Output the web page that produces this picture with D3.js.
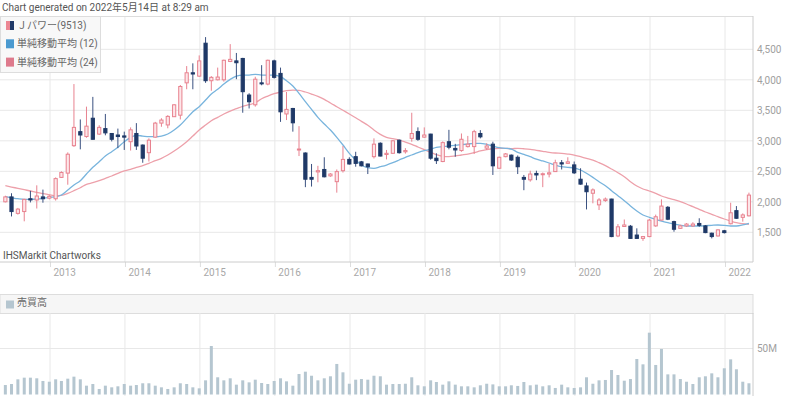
<!DOCTYPE html>
<html>
<head>
<meta charset="utf-8">
<script src="https://cdn.jsdelivr.net/npm/d3@7"></script>
<style>
  body { margin: 0; background: #fff; }
  svg { display: block; font-family: Roboto, "Noto Sans CJK JP", sans-serif; }
</style>
</head>
<body>
<div id="chart"></div>
<script>
// monthly bars, first one is Jun 2012, last one May 2022
const firstMonth = "2012-06";
const monthCount = 120;

// OHLC (yen), 12 per row from Jun 2012
const open = [
  2000, 2080, 1810, 1840, 2050, 2030, 2080,
  2060, 2050, 2400, 2470, 2920, 3150, 3070, 3370, 3110, 3200, 3120, 3095,
  3080, 2985, 3120, 2930, 2805, 3060, 3290, 3260, 3395, 3420, 3950, 4115,
  4060, 4600, 3985, 4000, 4000, 4300, 4310, 4350, 3750, 3590, 3950, 3930,
  4310, 4105, 3440, 3530, 2850, 2800, 2400, 2490, 2530, 2425, 2330, 2510,
  2695, 2740, 2655, 2620, 2740, 2960, 2775, 2795, 3010, 2820, 3040, 3150,
  3060, 3110, 2715, 2660, 2985, 2875, 2840, 2905, 2905, 3120, 2880, 2945,
  2550, 2740, 2765, 2730, 2400, 2360, 2465, 2445, 2455, 2495, 2640, 2630,
  2605, 2370, 2260, 2140, 1950, 2020, 2045, 1440, 1595, 1600, 1455, 1400,
  1430, 1605, 1700, 1910, 1675, 1565, 1605, 1605, 1645, 1605, 1485, 1440,
  1525, 1640, 1855, 1745, 1770
];
const high = [
  2100, 2140, 1900, 2050, 2180, 2270, 2200,
  2110, 2400, 2500, 2810, 3930, 3350, 3560, 3720, 3255, 3440, 3125, 3200,
  3150, 3220, 3290, 2940, 3040, 3310, 3370, 3420, 3600, 3915, 4225, 4270,
  4400, 4700, 4060, 4200, 4330, 4585, 4440, 4360, 3780, 4050, 4240, 4330,
  4330, 4200, 3800, 3540, 3240, 2810, 2620, 2590, 2730, 2470, 2530, 2915,
  2730, 2820, 2670, 2625, 3040, 2975, 2850, 3010, 3020, 2880, 3460, 3220,
  3220, 3115, 2795, 2990, 3180, 2950, 3120, 3080, 3180, 3175, 2960, 2985,
  2740, 2800, 2775, 2760, 2440, 2510, 2510, 2480, 2630, 2690, 2685, 2730,
  2660, 2550, 2315, 2220, 2060, 2070, 2050, 1635, 1710, 1620, 1565, 1440,
  1720, 1790, 2040, 1930, 1690, 1625, 1650, 1665, 1730, 1620, 1495, 1550,
  1540, 1985, 1930, 1810, 2150
];
const low = [
  1990, 1760, 1790, 1680, 1990, 1890, 1985,
  2040, 2020, 2390, 2280, 2900, 2860, 3050, 3020, 3095, 3090, 2990, 2880,
  2850, 2840, 2850, 2640, 2660, 3050, 3230, 3205, 3390, 3350, 3845, 3845,
  4050, 3950, 3820, 3990, 3970, 4290, 4010, 3460, 3530, 3560, 3910, 3910,
  4020, 3310, 3340, 3150, 2750, 2240, 2250, 2320, 2400, 2410, 2150, 2480,
  2610, 2575, 2580, 2455, 2710, 2745, 2695, 2790, 2790, 2790, 2985, 3000,
  3050, 2690, 2620, 2650, 2860, 2740, 2820, 2890, 2785, 3040, 2850, 2440,
  2545, 2730, 2670, 2455, 2190, 2330, 2355, 2240, 2400, 2490, 2530, 2620,
  2455, 2280, 1875, 1975, 1865, 2000, 1420, 1420, 1590, 1395, 1390, 1360,
  1420, 1590, 1695, 1700, 1510, 1555, 1590, 1590, 1590, 1485, 1400, 1430,
  1480, 1630, 1720, 1675, 1760
];
const close = [
  2080, 1840, 1880, 2040, 2030, 2095, 2050,
  2090, 2380, 2480, 2780, 3220, 3095, 3240, 3025, 3220, 3130, 3025, 3070,
  3060, 3180, 2915, 2715, 3010, 3290, 3340, 3400, 3590, 3890, 4115, 4095,
  4310, 3985, 4040, 4045, 4320, 4335, 4280, 3805, 3640, 4010, 3935, 4320,
  4040, 3475, 3515, 3295, 2865, 2370, 2370, 2510, 2410, 2455, 2495, 2695,
  2620, 2630, 2590, 2575, 2945, 2750, 2795, 3000, 2805, 2840, 3120, 3025,
  3095, 2715, 2675, 2970, 2895, 2850, 3025, 2945, 3150, 3065, 2915, 2590,
  2730, 2785, 2685, 2575, 2370, 2455, 2440, 2460, 2475, 2640, 2620, 2655,
  2475, 2290, 2165, 2195, 2030, 2045, 1430, 1590, 1620, 1400, 1400, 1430,
  1700, 1755, 1930, 1715, 1550, 1605, 1635, 1635, 1615, 1495, 1430, 1540,
  1495, 1820, 1730, 1785, 2110
];

// 単純移動平均 lines as drawn
const ma12 = [
  2083, 2067, 2051, 2041, 2041, 2046, 2057,
  2074, 2083, 2111, 2193, 2275, 2346, 2455, 2565, 2657, 2751, 2821, 2893,
  2985, 3057, 3090, 3078, 3067, 3067, 3078, 3111, 3177, 3258, 3368, 3477,
  3559, 3668, 3767, 3844, 3931, 4007, 4062, 4078, 4078, 4089, 4078, 4078,
  4078, 4051, 3985, 3898, 3778, 3641, 3516, 3385, 3275, 3177, 3057, 2931,
  2795, 2685, 2603, 2559, 2549, 2575, 2603, 2641, 2685, 2729, 2767, 2805,
  2837, 2860, 2893, 2903, 2914, 2926, 2936, 2947, 2958, 2958, 2942, 2914,
  2887, 2877, 2865, 2811, 2778, 2739, 2701, 2669, 2636, 2603, 2575, 2565,
  2554, 2521, 2467, 2401, 2329, 2264, 2182, 2100, 2018, 1931, 1849, 1784,
  1746, 1713, 1685, 1657, 1636, 1615, 1603, 1603, 1603, 1608, 1615, 1620,
  1615, 1603, 1603, 1620, 1648
];
const ma24 = [
  2264, 2242, 2221, 2199, 2177, 2156, 2133,
  2116, 2100, 2106, 2139, 2182, 2231, 2287, 2313, 2346, 2385, 2423, 2467,
  2505, 2532, 2565, 2592, 2631, 2674, 2713, 2767, 2833, 2903, 2985, 3078,
  3177, 3258, 3329, 3385, 3439, 3488, 3526, 3565, 3592, 3624, 3690, 3734,
  3772, 3800, 3821, 3832, 3827, 3800, 3767, 3729, 3680, 3619, 3559, 3500,
  3439, 3378, 3319, 3254, 3177, 3106, 3057, 3034, 3013, 2980, 2942, 2898,
  2854, 2811, 2772, 2746, 2739, 2751, 2767, 2783, 2805, 2833, 2854, 2870,
  2877, 2877, 2870, 2877, 2870, 2860, 2844, 2828, 2811, 2800, 2795, 2783,
  2767, 2739, 2713, 2685, 2641, 2592, 2537, 2477, 2411, 2329, 2259, 2210,
  2177, 2139, 2095, 2062, 2035, 2002, 1964, 1920, 1877, 1833, 1795, 1756,
  1718, 1685, 1657, 1641, 1631
];

// 売買高, millions of shares
const volume = [
  10.3, 11.4, 16.5, 18.3, 18.3, 17.6, 14.7,
  13.9, 16.5, 14.7, 17.2, 19.4, 16.5, 9.6, 11.4, 6.0, 9.6, 7.8, 8.9,
  11.4, 9.6, 10.3, 12.2, 12.2, 9.6, 7.8, 6.0, 7.8, 12.2, 11.4, 7.8,
  6.7, 15.4, 52.7, 18.7, 15.4, 17.6, 10.7, 15.4, 13.2, 16.1, 12.5, 11.4,
  14.7, 17.6, 14.3, 9.6, 22.3, 24.8, 20.4, 15.4, 17.6, 19.8, 33.2, 24.1,
  11.7, 16.1, 16.8, 16.1, 20.4, 19.8, 10.7, 11.4, 11.4, 11.7, 18.7, 10.0,
  8.9, 15.4, 13.6, 10.7, 14.3, 10.7, 8.9, 8.9, 7.8, 10.0, 11.7, 11.0,
  8.9, 8.9, 10.0, 9.3, 13.6, 10.0, 10.7, 8.9, 10.0, 7.1, 10.7, 7.8,
  7.1, 7.8, 18.7, 11.7, 15.4, 15.8, 26.6, 21.2, 15.0, 16.8, 38.6, 32.8,
  67.2, 32.1, 49.5, 21.9, 21.9, 16.8, 13.9, 11.4, 18.7, 19.8, 23.0, 18.7,
  28.5, 38.2, 27.4, 13.9, 12.2
];

const priceTicks = [1500, 2000, 2500, 3000, 3500, 4000, 4500];
const volumeTicks = [50];
const legendLabels = ["Ｊパワー(9513)", "単純移動平均 (12)", "単純移動平均 (24)"];

const width = 800, height = 396;
const plotRight = 753;
const priceTop = 16, priceBottom = 262;
const volHeadTop = 294, volTop = 313, volBottom = 394.5;

const upStroke = "#e8828f", upFill = "#fde6e9";
const downColor = "#1f3967";
const ma12Color = "#78b4dd", ma24Color = "#eda0aa";
const volColor = "#b5c6d0";
const gridColor = "#e8e8e8";
const fontSize = 10;

let parseMonth = d3.timeParse("%Y-%m");
let start = parseMonth(firstMonth);
let months = d3.timeMonth.range(start, d3.timeMonth.offset(start, monthCount));

let data = months.map((m, i) => ({
  date: m,
  open: open[i], high: high[i], low: low[i], close: close[i],
  ma12: ma12[i], ma24: ma24[i], vol: volume[i]
}));

let xScale = d3.scaleTime()
  .domain([new Date(2013, 0, 1), new Date(2022, 0, 1)])
  .range([50, 725]);

let yScale = d3.scaleLinear()
  .domain([1500, 4500])
  .range([232.3, 49.3]);

let vScale = d3.scaleLinear()
  .domain([0, 50])
  .range([volBottom, 348.5]);

let X = d => xScale(d.date) - 0.7;
let years = d3.timeYear.range(new Date(2013, 0, 1), new Date(2022, 0, 2));

let svg = d3.select("#chart")
  .append("svg")
    .attr("width", width)
    .attr("height", height)
    .attr("viewBox", [0, 0, width, height].join(" "));

svg.append("rect")
  .attr("width", width).attr("height", height)
  .attr("fill", "#fff");

// title
svg.append("text")
  .attr("x", 2).attr("y", 11)
  .attr("font-size", fontSize)
  .attr("fill", "#555")
  .text("Chart generated on 2022年5月14日 at 8:29 am");

// ---- price panel ----
let price = svg.append("g");

price.append("g")
  .selectAll("line")
  .data(priceTicks)
  .join("line")
    .attr("x1", 0).attr("x2", plotRight)
    .attr("y1", d => yScale(d)).attr("y2", d => yScale(d))
    .attr("stroke", gridColor);

price.append("g")
  .selectAll("line")
  .data(years)
  .join("line")
    .attr("x1", d => xScale(d)).attr("x2", d => xScale(d))
    .attr("y1", priceTop).attr("y2", priceBottom)
    .attr("stroke", gridColor);

price.append("line")
  .attr("x1", 0).attr("x2", plotRight)
  .attr("y1", priceTop + 0.5).attr("y2", priceTop + 0.5)
  .attr("stroke", "#ddd");

// moving averages under the candles
let ma12Line = d3.line().x(X).y(d => yScale(d.ma12)).curve(d3.curveMonotoneX);
let ma24Line = d3.line().x(X).y(d => yScale(d.ma24)).curve(d3.curveMonotoneX);

price.append("path")
  .datum(data)
  .attr("d", ma24Line)
  .attr("fill", "none")
  .attr("stroke", ma24Color)
  .attr("stroke-width", 1.3);

price.append("path")
  .datum(data)
  .attr("d", ma12Line)
  .attr("fill", "none")
  .attr("stroke", ma12Color)
  .attr("stroke-width", 1.3);

// candles
let candles = price.append("g")
  .selectAll("g")
  .data(data)
  .join("g");

candles.append("line")
  .attr("x1", X).attr("x2", X)
  .attr("y1", d => yScale(d.high))
  .attr("y2", d => yScale(d.low))
  .attr("stroke", d => d.close >= d.open ? upStroke : "#3a5180")
  .attr("stroke-width", 1);

candles.append("rect")
  .attr("x", d => X(d) - 1.6)
  .attr("width", 3.2)
  .attr("y", d => yScale(Math.max(d.open, d.close)))
  .attr("height", d => Math.max(1, Math.abs(yScale(d.open) - yScale(d.close))))
  .attr("fill", d => d.close >= d.open ? upFill : downColor)
  .attr("stroke", d => d.close >= d.open ? upStroke : downColor)
  .attr("stroke-width", 1);

// axes
let yAxis = d3.axisRight(yScale)
  .tickValues(priceTicks)
  .tickFormat(d3.format(","))
  .tickSize(0)
  .tickPadding(4);

price.append("g")
  .attr("transform", `translate(${plotRight},0)`)
  .call(yAxis)
  .call(g => g.select(".domain").remove())
  .call(g => g.selectAll("text")
    .attr("fill", "#a0a0a0")
    .attr("font-size", fontSize)
    .attr("font-family", "Roboto, sans-serif"));

let xAxis = d3.axisBottom(xScale)
  .tickValues(years)
  .tickFormat(d3.timeFormat("%Y"))
  .tickSize(5)
  .tickPadding(2);

price.append("g")
  .attr("transform", `translate(0,${priceBottom})`)
  .call(xAxis)
  .call(g => g.select(".domain").remove())
  .call(g => g.selectAll(".tick line").attr("stroke", "#ddd"))
  .call(g => g.selectAll("text")
    .attr("text-anchor", "start")
    .attr("dx", 3)
    .attr("fill", "#a8a8a8")
    .attr("font-size", fontSize)
    .attr("font-family", "Roboto, sans-serif"));

price.append("line")
  .attr("x1", 0).attr("x2", plotRight)
  .attr("y1", priceBottom).attr("y2", priceBottom)
  .attr("stroke", "#ccc");

price.append("line")
  .attr("x1", plotRight).attr("x2", plotRight)
  .attr("y1", priceTop).attr("y2", priceBottom)
  .attr("stroke", "#ccc");

price.append("text")
  .attr("x", 3).attr("y", 258.5)
  .attr("font-size", fontSize)
  .attr("fill", "#555")
  .text("IHSMarkit Chartworks");

// legend box
let legend = price.append("g");

legend.append("rect")
  .attr("x", 0.5).attr("y", priceTop + 0.5)
  .attr("width", 100).attr("height", 56)
  .attr("fill", "#f8f8f8")
  .attr("stroke", "#ddd");

let legendRows = legend.selectAll("g")
  .data(legendLabels)
  .join("g")
    .attr("transform", (d, i) => `translate(0,${25.5 + i * 18.3})`);

legendRows.append("text")
  .attr("x", 17).attr("y", 3.5)
  .attr("font-size", fontSize)
  .attr("fill", "#666")
  .text(d => d);

legendRows.filter((d, i) => i == 0).each(function () {
  let g = d3.select(this);
  g.append("rect").attr("x", 6).attr("y", -4.5).attr("width", 4).attr("height", 9).attr("fill", "#ec8793");
  g.append("rect").attr("x", 10).attr("y", -4.5).attr("width", 4).attr("height", 9).attr("fill", downColor);
});

legendRows.filter((d, i) => i > 0).append("rect")
  .attr("x", 6).attr("y", -4.5)
  .attr("width", 8).attr("height", 9)
  .attr("fill", (d, i) => i == 0 ? "#4b9ad0" : "#de7a8c");

// ---- volume panel ----
let vol = svg.append("g");

vol.append("rect")
  .attr("x", 0).attr("y", volHeadTop + 0.5)
  .attr("width", plotRight).attr("height", volTop - volHeadTop)
  .attr("fill", "#f6f6f6")
  .attr("stroke", "#ddd");

vol.append("rect")
  .attr("x", 6).attr("y", 300.5)
  .attr("width", 8).attr("height", 8)
  .attr("fill", volColor);

vol.append("text")
  .attr("x", 17).attr("y", 306)
  .attr("font-size", fontSize)
  .attr("fill", "#666")
  .text("売買高");

vol.append("g")
  .selectAll("line")
  .data(years)
  .join("line")
    .attr("x1", d => xScale(d)).attr("x2", d => xScale(d))
    .attr("y1", volTop).attr("y2", height)
    .attr("stroke", gridColor);

vol.append("g")
  .selectAll("line")
  .data(volumeTicks)
  .join("line")
    .attr("x1", 0).attr("x2", plotRight)
    .attr("y1", d => vScale(d)).attr("y2", d => vScale(d))
    .attr("stroke", gridColor);

vol.append("g")
  .selectAll("rect")
  .data(data)
  .join("rect")
    .attr("x", d => X(d) - 1.5)
    .attr("width", 3)
    .attr("y", d => vScale(d.vol))
    .attr("height", d => volBottom - vScale(d.vol))
    .attr("fill", volColor);

vol.append("line")
  .attr("x1", plotRight).attr("x2", plotRight)
  .attr("y1", volTop).attr("y2", height)
  .attr("stroke", "#ccc");

vol.append("g")
  .attr("transform", `translate(${plotRight},0)`)
  .call(d3.axisRight(vScale).tickValues(volumeTicks).tickFormat(d => d + "M").tickSize(0).tickPadding(4))
  .call(g => g.select(".domain").remove())
  .call(g => g.selectAll("text")
    .attr("fill", "#a0a0a0")
    .attr("font-size", fontSize)
    .attr("font-family", "Roboto, sans-serif"));
</script>
</body>
</html>
